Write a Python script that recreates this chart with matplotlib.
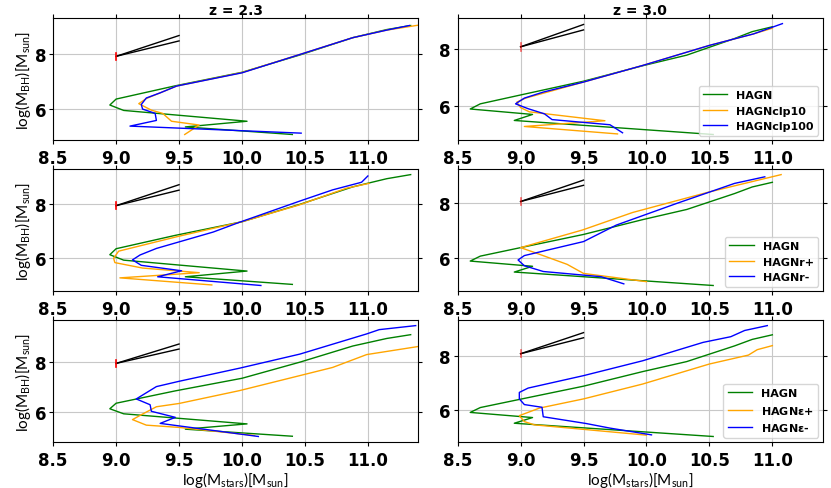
import numpy as np
import matplotlib
matplotlib.use("Agg")
import matplotlib.pyplot as plt

plt.rcParams['font.family'] = ['Lato', 'DejaVu Sans']
plt.rcParams['mathtext.default'] = 'regular'

# HAGN reference tracks (same in every row)
hagn_x_23 = [10.40, 9.55, 10.04, 9.06, 8.95, 9.00, 9.47, 10.00, 10.46, 10.88, 11.15, 11.34]
hagn_y_23 = [5.04, 5.32, 5.53, 5.93, 6.13, 6.35, 6.84, 7.34, 7.98, 8.62, 8.92, 9.07]
hagn_x_30 = [10.53, 8.95, 9.095, 8.60, 8.68, 8.99, 9.50, 9.97, 10.32, 10.70, 10.84, 11.00]
hagn_y_30 = [5.01, 5.50, 5.71, 5.90, 6.08, 6.38, 6.87, 7.41, 7.78, 8.36, 8.60, 8.77]

# row 1: clumping
clp10_x_23 = [9.545, 9.66, 9.44, 9.37, 9.28, 9.18, 9.24, 9.48, 10.00, 10.46, 10.88, 11.15, 11.48]
clp10_y_23 = [5.04, 5.39, 5.53, 5.82, 5.94, 6.18, 6.37, 6.83, 7.33, 8.00, 8.62, 8.90, 9.14]
clp100_x_23 = [10.47, 9.11, 9.32, 9.31, 9.21, 9.20, 9.24, 9.35, 9.48, 10.00, 10.46, 10.88, 11.15, 11.33]
clp100_y_23 = [5.09, 5.35, 5.56, 5.82, 5.98, 6.15, 6.39, 6.58, 6.83, 7.32, 8.00, 8.62, 8.90, 9.07]
clp10_x_30 = [9.77, 9.03, 9.67, 9.07, 9.00, 8.97, 9.04, 9.50, 9.97, 10.50, 10.85, 11.00]
clp10_y_30 = [5.03, 5.29, 5.49, 5.80, 5.95, 6.14, 6.28, 6.84, 7.42, 8.12, 8.52, 8.72]
clp100_x_30 = [9.81, 9.71, 9.25, 9.19, 9.06, 8.96, 9.03, 9.18, 9.50, 9.97, 10.50, 10.85, 11.08]
clp100_y_30 = [5.07, 5.35, 5.53, 5.73, 5.91, 6.08, 6.28, 6.49, 6.84, 7.42, 8.12, 8.52, 8.88]

# row 2: r+ / r-
rp_x_23 = [9.76, 9.03, 9.66, 9.21, 8.99, 8.98, 9.02, 9.50, 10.00, 10.45, 10.83, 11.01]
rp_y_23 = [5.02, 5.28, 5.47, 5.64, 5.84, 6.00, 6.26, 6.81, 7.34, 7.95, 8.57, 8.75]
rm_x_23 = [10.15, 9.33, 9.52, 9.20, 9.13, 9.19, 9.32, 9.77, 9.98, 10.46, 10.72, 10.95, 11.00]
rm_y_23 = [5.00, 5.32, 5.54, 5.74, 5.94, 6.12, 6.36, 6.96, 7.32, 8.10, 8.51, 8.79, 9.02]
rp_x_30 = [10.00, 9.50, 9.37, 9.13, 9.00, 9.49, 9.89, 10.50, 11.07]
rp_y_30 = [5.15, 5.45, 5.78, 6.18, 6.39, 7.03, 7.67, 8.42, 9.05]
rm_x_30 = [9.82, 9.64, 9.18, 9.03, 8.98, 9.03, 9.50, 9.76, 10.24, 10.70, 10.94]
rm_y_30 = [5.07, 5.33, 5.52, 5.73, 5.94, 6.10, 6.61, 7.21, 8.00, 8.73, 8.97]

# row 3: eps+ / eps-
ep_x_23 = [10.10, 9.50, 9.24, 9.13, 9.21, 9.32, 9.50, 9.98, 10.72, 10.99, 11.45]
ep_y_23 = [5.07, 5.39, 5.48, 5.70, 5.92, 6.21, 6.34, 6.85, 7.77, 8.28, 8.64]
em_x_23 = [10.13, 9.35, 9.47, 9.28, 9.27, 9.16, 9.32, 9.50, 9.98, 10.46, 10.99, 11.09, 11.38]
em_y_23 = [5.03, 5.55, 5.79, 6.03, 6.29, 6.52, 7.01, 7.22, 7.74, 8.30, 9.10, 9.27, 9.43]
ep_x_30 = [10.00, 9.11, 9.03, 8.99, 9.15, 9.50, 9.97, 10.50, 10.81, 10.88, 11.00]
ep_y_30 = [5.06, 5.44, 5.56, 5.78, 6.06, 6.40, 6.95, 7.69, 8.02, 8.22, 8.37]
em_x_30 = [10.04, 9.71, 9.52, 9.18, 9.17, 9.03, 8.99, 8.99, 9.06, 9.50, 9.97, 10.45, 10.67, 10.78, 10.96]
em_y_30 = [5.07, 5.32, 5.49, 5.74, 6.09, 6.19, 6.40, 6.64, 6.80, 7.26, 7.81, 8.49, 8.70, 8.93, 9.11]

# black slope lines and red bar at log Mstar = 9
ref_x = [9.0, 9.5]
slope_23 = [[7.93, 8.70], [7.93, 8.50]]
slope_30 = [[8.07, 8.85], [8.07, 8.66]]
bar_23 = [7.80, 8.06]
bar_30 = [7.94, 8.21]

titles = ['z = 2.3', 'z = 3.0']
labels = [['HAGN', 'HAGNclp10', 'HAGNclp100'],
          ['HAGN', 'HAGNr+', 'HAGNr-'],
          ['HAGN', r'HAGN$\epsilon$+', r'HAGN$\epsilon$-']]

variants = [
    [(clp10_x_23, clp10_y_23, clp100_x_23, clp100_y_23), (clp10_x_30, clp10_y_30, clp100_x_30, clp100_y_30)],
    [(rp_x_23, rp_y_23, rm_x_23, rm_y_23), (rp_x_30, rp_y_30, rm_x_30, rm_y_30)],
    [(ep_x_23, ep_y_23, em_x_23, em_y_23), (ep_x_30, ep_y_30, em_x_30, em_y_30)],
]
hagn = [(hagn_x_23, hagn_y_23), (hagn_x_30, hagn_y_30)]
slopes = [slope_23, slope_30]
bars = [bar_23, bar_30]

bold_font = ['DejaVu Sans']

fig, axes = plt.subplots(3, 2, figsize=(8.31, 4.89), dpi=100)
fig.subplots_adjust(left=0.064, right=0.99, top=0.961, bottom=0.094, wspace=0.108, hspace=0.238)

for i in range(3):
    for j in range(2):
        ax = axes[i, j]
        hx, hy = hagn[j]
        ox, oy, bx, by = variants[i][j]
        ax.plot(hx, hy, color='green', lw=1.0, label=labels[i][0])
        ax.plot(ox, oy, color='orange', lw=1.0, label=labels[i][1])
        ax.plot(bx, by, color='blue', lw=1.0, label=labels[i][2])
        for s in slopes[j]:
            ax.plot(ref_x, s, color='black', lw=1.0)
        ax.plot([9.0, 9.0], bars[j], color='red', lw=1.2, alpha=1.0 if j == 0 else 0.6)
        ax.set_xlim(8.5, 11.4)
        ax.set_xticks([8.5, 9.0, 9.5, 10.0, 10.5, 11.0])
        ax.set_yticks([6, 8])
        ax.grid(True, color='#c8c8c8', lw=0.8)
        ax.tick_params(top=True, right=True, direction='out', length=3)
        ax.tick_params(axis='y', pad=2)
        for t in ax.get_xticklabels() + ax.get_yticklabels():
            t.set_fontsize(12)
            t.set_fontweight('bold')
            t.set_family(bold_font)
        if j == 0:
            ax.set_ylabel(r'log(M$_{BH}$)[M$_{sun}$]', fontsize=11, labelpad=1)
        else:
            ax.legend(loc='lower right', prop={'family': bold_font, 'weight': 'bold', 'size': 8},
                      handlelength=2.2, borderaxespad=0.4)
        if i == 0:
            ax.set_title(titles[j], fontsize=10, fontweight='bold', family=bold_font, pad=3)
        if i == 2:
            ax.set_xlabel(r'log(M$_{stars}$)[M$_{sun}$]', fontsize=11, labelpad=0)

fig.savefig('out.png', dpi=100)
